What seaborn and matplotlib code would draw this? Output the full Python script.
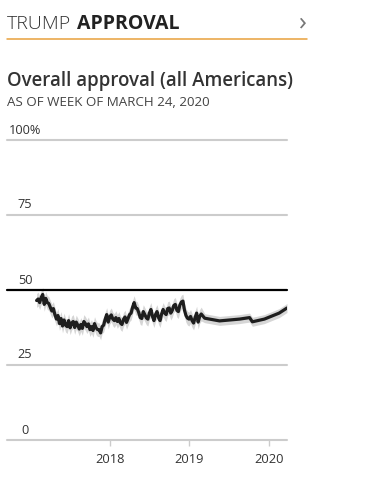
import numpy as np
import pandas as pd
import matplotlib
matplotlib.use("Agg")
import matplotlib.pyplot as plt
import matplotlib.transforms as mtransforms
from matplotlib.lines import Line2D
import seaborn as sns

# ---- data -------------------------------------------------------------
weekly_start = "2017-01-29"
weekly_approval = [
    46.5, 47.0, 45.8, 47.5, 48.5, 45.2, 47.2, 45.8, 45.5, 44.2,
    43.0, 43.8, 41.8, 40.3, 41.5, 38.8, 40.5, 38.0, 40.0, 38.3,
    37.8, 39.8, 37.4, 39.0, 39.5, 37.5, 39.3, 38.3, 37.0, 38.5,
    37.2, 39.5, 38.8, 37.8, 38.7, 36.8, 37.8, 36.5, 38.8, 37.4,
    36.8, 36.8, 35.7, 37.8, 38.3, 40.3, 41.8, 39.3, 41.0, 41.7,
    40.3, 39.8, 40.8, 39.5, 40.5, 39.0, 38.5, 40.2, 41.0, 39.2,
    40.5, 41.8, 42.3, 44.3, 45.8, 44.0, 43.8, 42.5, 40.8, 40.5,
    42.8, 41.8, 40.7, 40.3, 42.3, 43.5, 41.2, 39.8, 41.8, 42.8,
    40.8, 39.8, 42.0, 43.5, 42.3, 41.8, 43.8, 44.0, 42.3, 43.2,
    44.8, 45.2, 43.3, 42.8, 45.0, 46.0, 46.3, 43.3, 41.5, 40.6,
    40.3, 41.2, 39.8, 39.0, 40.8, 42.3, 39.3, 41.2, 42.0,
]
later_dates = ["2019-03-12", "2019-05-19", "2019-08-19", "2019-10-04",
               "2019-10-17", "2019-12-11", "2020-02-17", "2020-03-24"]
later_approval = [40.6, 39.7, 40.3, 40.8, 39.4, 40.3, 42.3, 44.0]
weekly_moe = 2.3
later_moe = 1.5

y_ticks = [0, 25, 50, 75, 100]
y_tick_labels = ["0", "25", "50", "75", "100%"]
x_tick_years = ["2018-01-01", "2019-01-01", "2020-01-01"]
x_tick_labels = ["2018", "2019", "2020"]
x_range = ["2016-09-15", "2020-03-24"]

header_light = "TRUMP"
header_bold = "APPROVAL"
title = "Overall approval (all Americans)"
subtitle = "AS OF WEEK OF MARCH 24, 2020"

# ---- frame ------------------------------------------------------------
weekly_dates = pd.date_range(weekly_start, periods=len(weekly_approval), freq="7D")
df = pd.DataFrame({
    "date": list(weekly_dates) + list(pd.to_datetime(later_dates)),
    "approval": weekly_approval + later_approval,
    "moe": [weekly_moe] * len(weekly_approval) + [later_moe] * len(later_approval),
})

sns.set_theme(style="white")
plt.rcParams["font.family"] = ["Open Sans", "DejaVu Sans"]

W, H = 367, 483
fig = plt.figure(figsize=(W / 100, H / 100), dpi=100)
fig.patch.set_facecolor("white")
ax = fig.add_axes([7 / W, 43 / H, 280 / W, 300 / H])
ax.set_facecolor("white")

# grid lines
for v in y_ticks:
    ax.axhline(v, color="black" if v == 50 else "#cccccc",
               lw=1.6 if v == 50 else 1.5, zorder=1 if v != 50 else 4,
               clip_on=False)

# band + line
ax.fill_between(df["date"], df["approval"] - df["moe"], df["approval"] + df["moe"],
                color="#cccccc", alpha=0.8, lw=0, zorder=2)
sns.lineplot(data=df, x="date", y="approval", ax=ax, color="#1e1e1e",
             lw=2.3, zorder=3, legend=False)

ax.set_ylim(0, 100)
ax.set_xlim(pd.to_datetime(x_range[0]), pd.to_datetime(x_range[1]))
for s in ax.spines.values():
    s.set_visible(False)
ax.set_xlabel("")
ax.set_ylabel("")
ax.set_yticks([])
ax.set_xticks(pd.to_datetime(x_tick_years))
ax.set_xticklabels(x_tick_labels, fontsize=9.3, color="#333333")
ax.tick_params(axis="x", length=4.5, width=1, color="#cccccc", pad=5,
               bottom=True, direction="out")

# y labels above gridlines
trans = mtransforms.blended_transform_factory(ax.transAxes, ax.transData)
offset = mtransforms.ScaledTranslation(0, 10 / 100, fig.dpi_scale_trans)
for v, lab in zip(y_ticks, y_tick_labels):
    ax.text(18 / 280, v, lab, transform=trans + offset, ha="center",
            va="center", fontsize=9.2, color="#333333")

# ---- header texts -------------------------------------------------------
def fx(px):
    return px / W

def fy(py):
    return 1 - py / H

t1 = fig.text(fx(7), fy(29), header_light, fontsize=14, fontweight="light",
              color="#333333", va="baseline", ha="left")
fig.canvas.draw()
bb = t1.get_window_extent()
fig.text(bb.x1 / W + 6 / W, fy(29), header_bold, fontsize=14,
         fontweight="bold", color="#222222", va="baseline", ha="left")
fig.text(fx(298), fy(30), "›", fontsize=19, color="#777777",
         va="baseline", ha="left")
fig.add_artist(Line2D([fx(7), fx(307)], [fy(38.5), fy(38.5)],
                      color="#e8a13c", lw=1.1, transform=fig.transFigure))

fig.text(fx(7), fy(86), title, fontsize=13.4, fontweight="semibold",
         color="#333333", va="baseline", ha="left")
fig.text(fx(7), fy(106), subtitle, fontsize=9.6, color="#444444",
         va="baseline", ha="left")

fig.savefig("out.png", dpi=100, facecolor="white")
